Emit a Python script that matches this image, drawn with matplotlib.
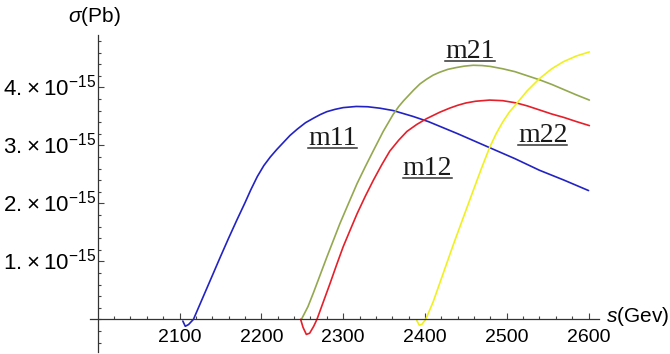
import matplotlib
matplotlib.use('Agg')
import matplotlib.pyplot as plt
import numpy as np
from matplotlib.lines import Line2D
from matplotlib.transforms import offset_copy

plt.rcParams['font.family'] = ['Liberation Sans', 'DejaVu Sans']
plt.rcParams['mathtext.fontset'] = 'custom'
plt.rcParams['mathtext.it'] = 'Liberation Sans:italic'
plt.rcParams['mathtext.rm'] = 'Liberation Serif'
plt.rcParams['mathtext.default'] = 'regular'

# cross sections, in units of 1e-15 pb
s_m11 = [2104, 2107, 2111, 2117, 2128, 2139, 2150, 2160, 2170, 2180, 2187, 2195, 2203,
         2211, 2219, 2227, 2235, 2244, 2254, 2264, 2272, 2280, 2290, 2300, 2316, 2330,
         2345, 2361, 2385, 2404, 2440, 2479, 2510, 2540, 2570, 2600]
sig_m11 = [-0.03, -0.12, -0.09, 0.00, 0.36, 0.72, 1.08, 1.40, 1.71, 2.01, 2.23, 2.46, 2.65,
           2.80, 2.93, 3.05, 3.17, 3.28, 3.39, 3.47, 3.53, 3.58, 3.62, 3.65, 3.67, 3.665,
           3.64, 3.60, 3.50, 3.41, 3.20, 2.96, 2.77, 2.57, 2.40, 2.22]

s_m21 = [2249, 2257, 2264, 2272, 2280, 2288, 2296, 2306, 2317, 2327, 2337, 2349, 2361,
         2368, 2374, 2386, 2394, 2402, 2410, 2418, 2428, 2438, 2448, 2459, 2470, 2480,
         2495, 2510, 2525, 2540, 2555, 2570, 2585, 2601]
sig_m21 = [0.00, 0.22, 0.47, 0.77, 1.07, 1.36, 1.65, 1.98, 2.34, 2.63, 2.91, 3.24, 3.53,
           3.67, 3.77, 3.95, 4.06, 4.14, 4.21, 4.26, 4.31, 4.34, 4.365, 4.38, 4.375, 4.36,
           4.32, 4.27, 4.20, 4.13, 4.05, 3.96, 3.87, 3.78]

s_m12 = [2248, 2251, 2255, 2259, 2264, 2268, 2276, 2284, 2292, 2300, 2308, 2317, 2327,
         2337, 2347, 2357, 2368, 2378, 2390, 2402, 2418, 2430, 2440, 2450, 2462, 2479,
         2495, 2512, 2525, 2540, 2555, 2570, 2585, 2601]
sig_m12 = [0.00, -0.14, -0.26, -0.24, -0.12, 0.00, 0.31, 0.62, 0.94, 1.25, 1.52, 1.82, 2.12,
           2.40, 2.66, 2.90, 3.09, 3.24, 3.36, 3.46, 3.57, 3.64, 3.69, 3.73, 3.76, 3.78,
           3.77, 3.73, 3.68, 3.61, 3.54, 3.48, 3.41, 3.34]

s_m22 = [2390, 2393, 2396, 2401, 2410, 2420, 2435, 2447, 2459, 2469, 2479, 2487, 2495,
         2503, 2512, 2525, 2540, 2555, 2569, 2585, 2601]
sig_m22 = [-0.02, -0.10, -0.09, 0.00, 0.30, 0.70, 1.30, 1.76, 2.22, 2.60, 2.96, 3.20, 3.40,
           3.57, 3.72, 3.94, 4.15, 4.32, 4.44, 4.54, 4.61]

x_ticks = [2100, 2200, 2300, 2400, 2500, 2600]
y_ticks = [1, 2, 3, 4]
y_tick_labels = ['1.\u2009×\u200910$^{-15}$', '2.\u2009×\u200910$^{-15}$',
                 '3.\u2009×\u200910$^{-15}$', '4.\u2009×\u200910$^{-15}$']

fig = plt.figure(figsize=(6.7, 3.54), dpi=100)
ax = fig.add_axes([0.1337, 0.0062, 0.7606, 0.8946])

line_kw = dict(lw=1.2, solid_joinstyle='round', solid_capstyle='round')
ax.plot(s_m11, sig_m11, color='#2323c4', **line_kw)
ax.plot(s_m21, sig_m21, color='#93a84f', **line_kw)
ax.plot(s_m12, sig_m12, color='#e5202a', **line_kw)
ax.plot(s_m22, sig_m22, color='#f0f020', **line_kw)

ax.set_xlim(1990, 2613)
ax.set_ylim(-0.56, 4.9)

# mathematica-like axes crossing at (2000, 0)
ax.spines['top'].set_visible(False)
ax.spines['right'].set_visible(False)
ax.spines['left'].set_position(('data', 2000))
ax.spines['bottom'].set_position(('data', 0))
for side in ('left', 'bottom'):
    ax.spines[side].set_color('#333333')
    ax.spines[side].set_linewidth(0.9)

ax.set_xticks(x_ticks)
ax.set_xticks(np.arange(2020, 2601, 20), minor=True)
ax.set_yticks(y_ticks)
ax.set_yticklabels([])
ax.set_yticks(np.arange(-0.4, 4.81, 0.2), minor=True)
ax.tick_params(which='both', direction='in', color='#444444', width=0.8)
ax.tick_params(which='major', length=4.5)
ax.tick_params(which='minor', length=2.3)
ax.tick_params(axis='x', labelsize=14, pad=7)

ylab_tr = offset_copy(ax.transData, fig=fig, x=-1.5, y=-5.8, units='points')
for y, lbl in zip(y_ticks, y_tick_labels):
    ax.text(2000, y, lbl, transform=ylab_tr, ha='right', va='baseline', fontsize=16)

fig.text(94 / 670, 1 - 17 / 354, r'$\mathit{\sigma}$(Pb)', fontsize=15,
         ha='center', va='center')
fig.text(606 / 670, 1 - 317 / 354, r'$\mathit{s}$(Gev)', fontsize=15,
         ha='left', va='center')

# curve names, underlined
names = ['m11', 'm21', 'm12', 'm22']
name_pos = [(2287, 3.0), (2455, 4.5), (2403, 2.49), (2544, 3.06)]
name_texts = []
for nm, (x, y) in zip(names, name_pos):
    t = ax.text(x, y, nm, fontsize=20, family='Liberation Serif',
                ha='center', va='baseline', color='#1a1a1a')
    name_texts.append((t, x, y))

fig.canvas.draw()
for t, x, y in name_texts:
    bb = t.get_window_extent()
    _, yb = ax.transData.transform((x, y))
    fig.add_artist(Line2D([bb.x0 / fig.bbox.width, bb.x1 / fig.bbox.width],
                          [(yb - 3) / fig.bbox.height] * 2,
                          color='#333333', lw=1.1))

fig.savefig('out.png', dpi=100)
